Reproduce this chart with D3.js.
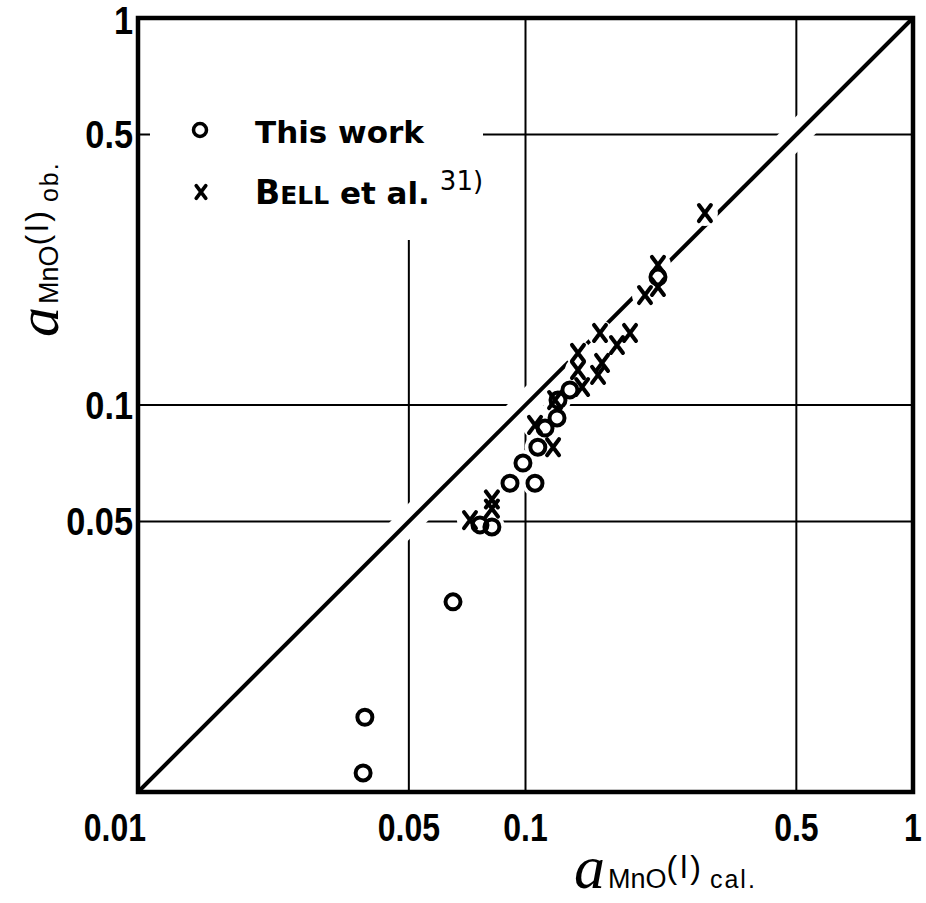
<!DOCTYPE html>
<html>
<head>
<meta charset="utf-8">
<script src="https://cdn.jsdelivr.net/npm/d3@7"></script>
<style>
  body { margin: 0; background: #fff; }
  svg { display: block; }
</style>
</head>
<body>
<div id="chart"></div>
<script>
// Tick values and labels (both axes are log scaled, 0.01 .. 1)
const xTickValues = [0.01, 0.05, 0.1, 0.5, 1];
const xTickLabels = ["0.01", "0.05", "0.1", "0.5", "1"];
const yTickValues = [0.05, 0.1, 0.5, 1];
const yTickLabels = ["0.05", "0.1", "0.5", "1"];
const gridValues = [0.05, 0.1, 0.5];

// This work (open circles)
const workCal = [0.0381, 0.0385, 0.0650, 0.0763, 0.0819, 0.0912, 0.1058, 0.0985, 0.1076, 0.1123, 0.1206, 0.1213, 0.1302, 0.2197];
const workOb  = [0.0112, 0.0156, 0.0310, 0.0490, 0.0484, 0.0628, 0.0628, 0.0708, 0.0778, 0.0872, 0.0926, 0.1030, 0.1094, 0.2141];

// Bell et al. (crosses)
const bellCal = [0.0719, 0.0819, 0.0819, 0.1058, 0.1178, 0.1192, 0.1400, 0.1366, 0.1366, 0.1539, 0.1576, 0.1557, 0.1722, 0.1861, 0.2034, 0.2197, 0.2197, 0.2904];
const bellOb  = [0.0504, 0.0570, 0.0540, 0.0888, 0.0778, 0.1030, 0.1113, 0.1363, 0.1231, 0.1196, 0.1284, 0.1535, 0.1429, 0.1535, 0.1924, 0.2301, 0.2018, 0.3133];

const width = 926;
const height = 903;
const margin = { top: 18, right: 13, bottom: 111, left: 138 };

const svg = d3.select("#chart")
    .append("svg")
    .attr("width", width)
    .attr("height", height);

const x = d3.scaleLog()
    .domain([0.01, 1])
    .range([margin.left, width - margin.right]);
const y = d3.scaleLog()
    .domain([0.01, 1])
    .range([height - margin.bottom, margin.top]);

const work = workCal.map((c, i) => ({ cal: c, ob: workOb[i] }));
const bell = bellCal.map((c, i) => ({ cal: c, ob: bellOb[i] }));

// Grid lines
svg.selectAll(".vgrid")
    .data(gridValues)
    .join("line")
    .attr("class", "vgrid")
    .attr("x1", d => x(d)).attr("x2", d => x(d))
    .attr("y1", y(1)).attr("y2", y(0.01))
    .attr("stroke", "#000")
    .attr("stroke-width", 2);

svg.selectAll(".hgrid")
    .data(gridValues)
    .join("line")
    .attr("class", "hgrid")
    .attr("x1", x(0.01)).attr("x2", x(1))
    .attr("y1", d => y(d)).attr("y2", d => y(d))
    .attr("stroke", "#000")
    .attr("stroke-width", 2);

// Legend area blanks out the grid
svg.append("rect")
    .attr("x", 150)
    .attr("y", 20)
    .attr("width", 333)
    .attr("height", 220)
    .attr("fill", "#fff");

// y = x line, with a white band that interrupts the grid
svg.append("line")
    .attr("x1", x(0.01)).attr("y1", y(0.01))
    .attr("x2", x(1)).attr("y2", y(1))
    .attr("stroke", "#fff")
    .attr("stroke-width", 26);

svg.append("line")
    .attr("x1", x(0.01)).attr("y1", y(0.01))
    .attr("x2", x(1)).attr("y2", y(1))
    .attr("stroke", "#000")
    .attr("stroke-width", 4);

// white halos under the markers
svg.selectAll(".halo")
    .data(work.concat(bell))
    .join("circle")
    .attr("class", "halo")
    .attr("cx", d => x(d.cal))
    .attr("cy", d => y(d.ob))
    .attr("r", 13)
    .attr("fill", "#fff");

// circles
svg.selectAll(".work")
    .data(work)
    .join("circle")
    .attr("class", "work")
    .attr("cx", d => x(d.cal))
    .attr("cy", d => y(d.ob))
    .attr("r", 7.5)
    .attr("fill", "none")
    .attr("stroke", "#000")
    .attr("stroke-width", 4);

// crosses
const crossPath = "M-6,-8L6,8M6,-8L-6,8";
svg.selectAll(".bell")
    .data(bell)
    .join("path")
    .attr("class", "bell")
    .attr("transform", d => `translate(${x(d.cal)},${y(d.ob)})`)
    .attr("d", crossPath)
    .attr("fill", "none")
    .attr("stroke", "#000")
    .attr("stroke-width", 4)
    .attr("stroke-linecap", "round");

// Frame
svg.append("rect")
    .attr("x", x(0.01))
    .attr("y", y(1))
    .attr("width", x(1) - x(0.01))
    .attr("height", y(0.01) - y(1))
    .attr("fill", "none")
    .attr("stroke", "#000")
    .attr("stroke-width", 4.5);

// Tick labels
const tickFont = "'Liberation Sans', Arial, sans-serif";

svg.selectAll(".xlab")
    .data(xTickValues)
    .join("text")
    .attr("class", "xlab")
    .attr("transform", (d, i) => `translate(${i === 0 ? x(d) + 8 : x(d)},841) scale(0.82,1)`)
    .attr("text-anchor", (d, i) => i === 0 ? "end" : "middle")
    .style("font-family", tickFont)
    .style("font-size", "39px")
    .style("font-weight", "bold")
    .text((d, i) => xTickLabels[i]);

svg.selectAll(".ylab")
    .data(yTickValues)
    .join("text")
    .attr("class", "ylab")
    .attr("transform", d => `translate(133,${Math.max(y(d) + 14, 34)}) scale(0.88,1)`)
    .attr("text-anchor", "end")
    .style("font-family", tickFont)
    .style("font-size", "39px")
    .style("font-weight", "bold")
    .text((d, i) => yTickLabels[i]);

// Legend
const legendFont = "'DejaVu Sans', sans-serif";
svg.append("circle")
    .attr("cx", 200).attr("cy", 130).attr("r", 6.5)
    .attr("fill", "none").attr("stroke", "#000").attr("stroke-width", 3.5);
svg.append("path")
    .attr("transform", "translate(201,192) scale(0.8)")
    .attr("d", crossPath)
    .attr("fill", "none").attr("stroke", "#000").attr("stroke-width", 4.5)
    .attr("stroke-linecap", "round");

svg.append("text")
    .attr("x", 255).attr("y", 143)
    .style("font-family", legendFont)
    .style("font-size", "31px")
    .style("font-weight", "bold")
    .text("This work");

const bellText = svg.append("text")
    .attr("x", 255).attr("y", 204)
    .style("font-family", legendFont)
    .style("font-weight", "bold");
bellText.append("tspan").style("font-size", "33px").text("B");
bellText.append("tspan").style("font-size", "25px").text("ELL");
bellText.append("tspan").style("font-size", "31px").text(" et al.");
bellText.append("tspan").attr("dx", 10).attr("dy", -14).style("font-size", "26px").style("font-weight", "normal").text("31)");

// Axis titles
function axisTitle(g, sub, aSize) {
    g.append("tspan")
        .style("font-family", "'Liberation Serif', serif")
        .style("font-style", "italic")
        .style("font-size", aSize + "px")
        .text("a");
    g.append("tspan")
        .attr("dx", 3)
        .style("font-family", tickFont)
        .style("font-size", "27px")
        .text("MnO");
    g.append("tspan")
        .attr("dy", -10)
        .style("font-family", tickFont)
        .style("font-size", "32px")
        .style("letter-spacing", "3px")
        .text("(l)");
    g.append("tspan")
        .attr("dx", 6)
        .attr("dy", 10)
        .style("font-family", tickFont)
        .style("font-size", "25px")
        .style("letter-spacing", "2px")
        .text(sub);
}

const xTitle = svg.append("text")
    .attr("x", 574).attr("y", 888);
axisTitle(xTitle, "cal.", 62);

const yTitle = svg.append("text")
    .attr("transform", "translate(58,337) rotate(-90)");
axisTitle(yTitle, "ob.", 60);
</script>
</body>
</html>
